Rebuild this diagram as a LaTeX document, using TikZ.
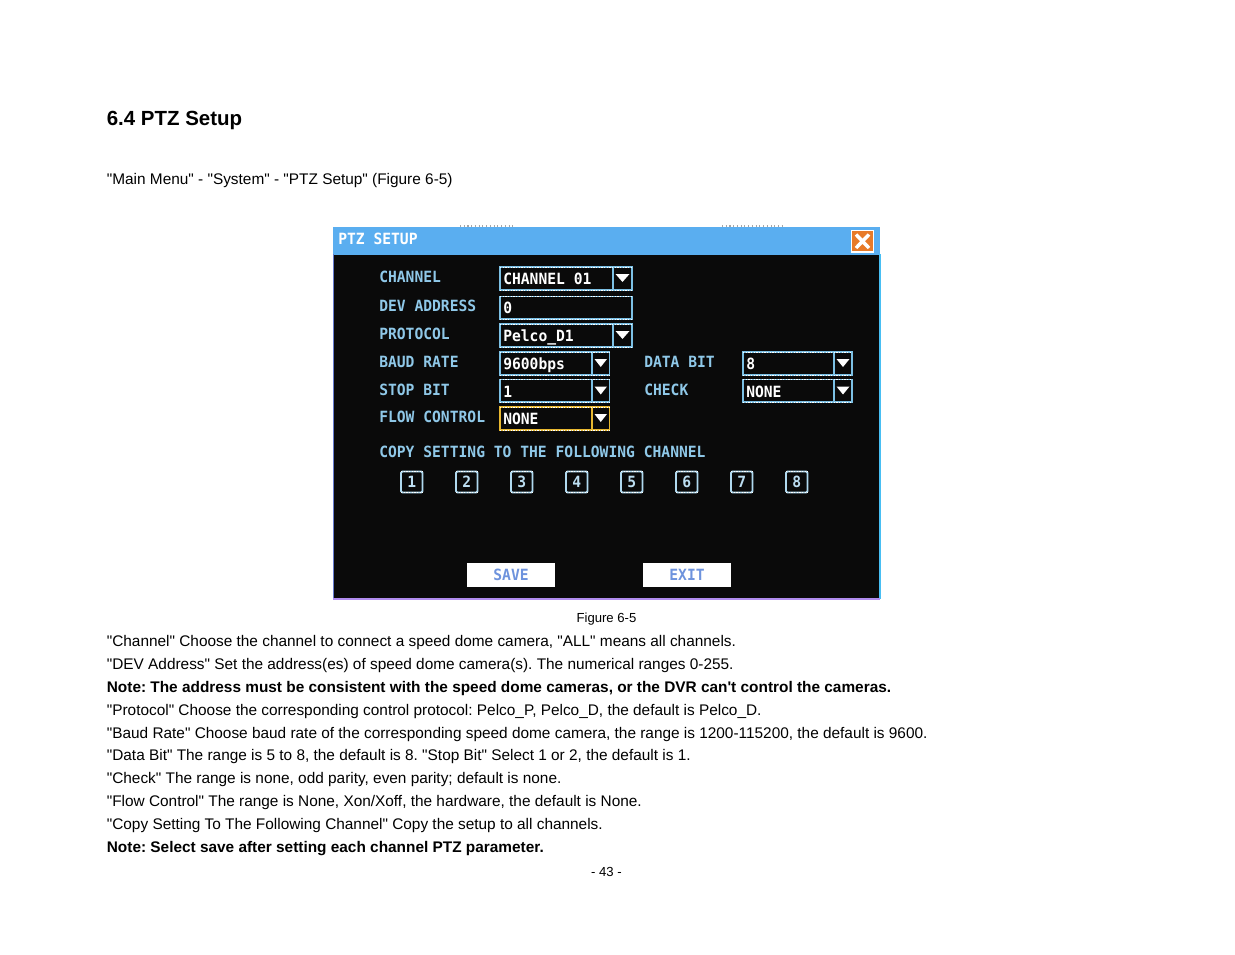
\documentclass[tikz,border=0pt]{standalone}
\usepackage{fontspec}
\setmainfont{Liberation Sans}[Ligatures=TeXOff]
\newfontfamily\osd{DejaVu Sans Mono}[FakeStretch=0.947]
\definecolor{osdblue}{HTML}{5AAEF0}
\definecolor{osdlab}{HTML}{8FC8E8}
\definecolor{osdedge}{HTML}{7CC0E4}
\definecolor{osdflow}{HTML}{E8B830}
\definecolor{osdbar}{HTML}{0A0A0A}
\definecolor{osdclose}{HTML}{E87A28}
\tikzset{
  x=0.75pt,y=-0.75pt,
  body/.style={anchor=base west,inner sep=0pt,font=\frenchspacing\fontsize{11.54}{13}\selectfont,text=black},
  bodyb/.style={body,font=\frenchspacing\fontsize{11.54}{13}\selectfont\bfseries},
  small/.style={anchor=base,inner sep=0pt,font=\fontsize{9.85}{12}\selectfont,text=black},
  lab/.style={anchor=base west,inner sep=0pt,font=\osd\bfseries\fontsize{11.6}{13}\selectfont,text=osdlab},
  val/.style={anchor=base west,inner sep=0pt,font=\osd\bfseries\fontsize{11.6}{13}\selectfont,text=white},
  fieldbox/.style={draw=osdedge,line width=1.3pt,fill=osdbar},
  dots/.style={white,line width=0.7pt,dash pattern=on 1pt off 1pt},
  chk/.style={draw=osdedge!60!white,line width=1.3pt,fill=osdbar,rounded corners=1pt},
  btn/.style={fill=white,draw=white,line width=.6pt,font=\osd\bfseries\fontsize{11.6}{13}\selectfont,text=osdlab!75!blue!85!gray,inner sep=0pt,anchor=center},
}
\newcommand{\edgedots}[4]{%
  \draw[dots] (#1,#2) -- (#3,#2) (#1,#4) -- (#3,#4);
}
\newcommand{\fieldbx}[7][osdedge]{% colour, x1,y1,x2,y2,divider,text
  \draw[fieldbox,draw=#1] (#2,#3) rectangle (#4,#5);
  \draw[draw=#1,line width=1.1pt] (#6,#3) -- (#6,#5);
  \edgedots{#2}{#3}{#4}{#5}
  \fill[white] ({#6+2.5},{#3+7}) -- ({(#4)-2.5},{#3+7}) -- ({(#6+#4)/2},{#3+15}) -- cycle;
  \node[val] at ({#2+3},{#3+17.5}) {#7};
}
\begin{document}
\begin{tikzpicture}
\useasboundingbox (0,0) rectangle (1235,954);
\fill[white] (0,0) rectangle (1235,954);
% page text
\node[anchor=base west,inner sep=0pt,font=\fontsize{15.35}{18}\selectfont\bfseries] (title) at (106.6,125) {6.4 PTZ Setup};
\node[body] (path) at (106.6,184) {"Main Menu" - "System" - "PTZ Setup" (Figure 6-5)};
% window
\fill[osdbar] (333,227) rectangle (880,599);
\fill[osdblue] (333,227) rectangle (880,254.5);
\draw[osdblue!70!violet,line width=1.2pt] (333.5,254) -- (333.5,599);
\draw[osdblue!80!cyan,line width=1.2pt] (880,254) -- (880,599);
\draw[osdlab!70!magenta,line width=1.5pt] (333,598.5) -- (880,598.5);
\draw[gray!70,line width=.8pt,dotted] (460,226) -- (515,226);
\draw[gray!70,line width=.8pt,dotted] (722,226) -- (782,226);
\node[anchor=base west,inner sep=0pt,font=\osd\bfseries\fontsize{11.6}{13}\selectfont,text=white] (wintitle) at (338,244) {PTZ SETUP};
% close button
\fill[osdclose,draw=white,line width=1.3pt] (851.5,230.5) rectangle (873.5,252);
\draw[white,line width=2.6pt] (856,234.5) -- (869,248) (869,234.5) -- (856,248);
% labels
\node[lab] at (379,282) {CHANNEL};
\node[lab] at (379,311) {DEV ADDRESS};
\node[lab] at (379,339) {PROTOCOL};
\node[lab] at (379,367) {BAUD RATE};
\node[lab] at (379,395) {STOP BIT};
\node[lab] at (379,422) {FLOW CONTROL};
\node[lab] at (644,367) {DATA BIT};
\node[lab] at (644,395) {CHECK};
\node[lab] at (379,457) {COPY SETTING TO THE FOLLOWING CHANNEL};
% fields
\fieldbx{500}{267}{632}{290}{613}{CHANNEL 01}
\draw[fieldbox] (500,296.5) rectangle (632,319);
\edgedots{500}{296.5}{632}{319}
\node[val] at (503,313.5) {0};
\fieldbx{500}{324}{632}{347}{613}{Pelco\_D1}
\fieldbx{500}{352}{609.5}{375}{592}{9600bps}
\fieldbx{500}{379.5}{609.5}{402}{592}{1}
\fieldbx[osdflow]{500}{407}{609.5}{430}{592}{NONE}
\fieldbx{743}{352}{852}{375}{834}{8}
\fieldbx{743}{379.5}{852}{402}{834}{NONE}
% copy check boxes
\foreach \i [evaluate=\i as \xx using {401+55*(\i-1)}] in {1,...,8}{
  \draw[chk] (\xx,471.5) rectangle ({\xx+21.5},492.5);
  \edgedots{\xx}{471.5}{\xx+21.5}{492.5}
  \node[anchor=center,inner sep=0pt,font=\osd\bfseries\fontsize{11.6}{13}\selectfont,text=osdlab!60!white] (c\i) at ({\xx+10.7},482) {\i};
}
% buttons
\node[btn,minimum width=87pt*0.75,minimum height=23pt*0.75] (save) at (511,575) {\raisebox{-0.8pt}{SAVE}};
\node[btn,minimum width=87pt*0.75,minimum height=23pt*0.75] (exit) at (687,575) {\raisebox{-0.8pt}{EXIT}};
% lower text
\node[small] (cap) at (606.5,622) {Figure 6-5};
\node[body]  at (106.6,646) {"Channel" Choose the channel to connect a speed dome camera, "ALL" means all channels.};
\node[body]  at (106.6,669) {"DEV Address" Set the address(es) of speed dome camera(s). The numerical ranges 0-255.};
\node[bodyb] at (106.6,692) {Note: The address must be consistent with the speed dome cameras, or the DVR can't control the cameras.};
\node[body]  at (106.6,715) {"Protocol" Choose the corresponding control protocol: Pelco\_P, Pelco\_D, the default is Pelco\_D.};
\node[body]  at (106.6,738) {"Baud Rate" Choose baud rate of the corresponding speed dome camera, the range is 1200-115200, the default is 9600.};
\node[body]  at (106.6,760) {"Data Bit" The range is 5 to 8, the default is 8. "Stop Bit" Select 1 or 2, the default is 1.};
\node[body]  at (106.6,783) {"Check" The range is none, odd parity, even parity; default is none.};
\node[body]  at (106.6,806) {"Flow Control" The range is None, Xon/Xoff, the hardware, the default is None.};
\node[body]  at (106.6,829) {"Copy Setting To The Following Channel" Copy the setup to all channels.};
\node[bodyb] at (106.6,852) {Note: Select save after setting each channel PTZ parameter.};
\node[small] (pg) at (606.5,876) {- 43 -};
\end{tikzpicture}
\end{document}
